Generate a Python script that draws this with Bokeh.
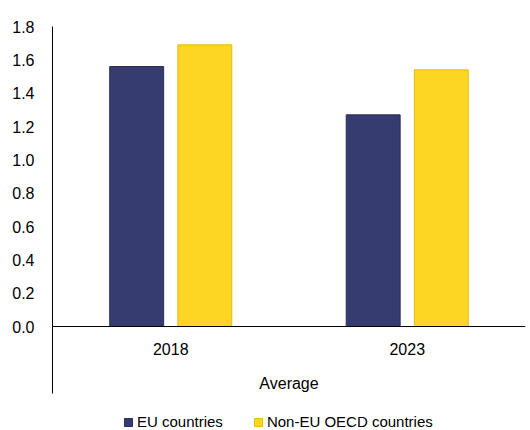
from bokeh.plotting import figure
from bokeh.models import Range1d, FixedTicker, Legend, LegendItem, ColumnDataSource, NumeralTickFormatter
from bokeh.transform import dodge
from bokeh.embed import file_html
from bokeh.resources import INLINE

years = ["2018", "2023"]
eu_countries = [1.56, 1.27]
non_eu_oecd = [1.69, 1.54]
y_ticks = [0.0, 0.2, 0.4, 0.6, 0.8, 1.0, 1.2, 1.4, 1.6, 1.8]
series_names = ["EU countries", "Non-EU OECD countries"]
x_label = "Average"

NAVY = "#363C70"
NAVY_LINE = "#2A2E58"
YELLOW = "#FDD623"
YELLOW_LINE = "#E3BD10"
FONT = "Liberation Sans"

src = ColumnDataSource(dict(year=years, eu=eu_countries, non=non_eu_oecd))

p = figure(width=530, height=430, x_range=years, y_range=Range1d(-0.624, 1.8),
           output_backend="svg", toolbar_location=None,
           min_border_left=52, min_border_top=26, min_border_right=5, min_border_bottom=0)
p.outline_line_color = None
p.xgrid.visible = False
p.ygrid.visible = False
p.background_fill_color = "white"
p.border_fill_color = "white"

r1 = p.vbar(x=dodge("year", -0.144, range=p.x_range), top="eu", width=0.228, source=src,
            fill_color=NAVY, line_color=NAVY_LINE, line_width=1)
r2 = p.vbar(x=dodge("year", 0.144, range=p.x_range), top="non", width=0.228, source=src,
            fill_color=YELLOW, line_color=YELLOW_LINE, line_width=1)

yax = p.yaxis[0]
yax.ticker = FixedTicker(ticks=y_ticks)
yax.bounds = (-0.4, 1.8)
yax.formatter = NumeralTickFormatter(format="0.0")
yax.major_tick_line_color = None
yax.minor_tick_line_color = None
yax.major_label_standoff = 12
yax.major_label_text_font = FONT
yax.major_label_text_font_size = "16px"
yax.major_label_text_color = "black"
yax.axis_line_color = "black"

xax = p.xaxis[0]
xax.fixed_location = 0
xax.major_tick_line_color = None
xax.minor_tick_line_color = None
xax.major_label_standoff = 10
xax.major_label_text_font = FONT
xax.major_label_text_font_size = "16px"
xax.major_label_text_color = "black"
xax.axis_line_color = "black"
xax.axis_label = x_label
xax.axis_label_text_font = FONT
xax.axis_label_text_font_size = "16px"
xax.axis_label_text_font_style = "normal"
xax.axis_label_text_color = "black"
xax.axis_label_standoff = 17

legend = Legend(items=[LegendItem(label=series_names[0], renderers=[r1]),
                       LegendItem(label=series_names[1], renderers=[r2])],
                orientation="horizontal", location=(71, 0),
                glyph_width=10, glyph_height=10, label_height=14,
                label_standoff=4, spacing=30, padding=0, margin=0,
                border_line_color=None, background_fill_alpha=0,
                label_text_font=FONT, label_text_font_size="15px", label_text_color="black")
p.add_layout(legend, "center")

open("out.html", "w").write(file_html(p, INLINE))
